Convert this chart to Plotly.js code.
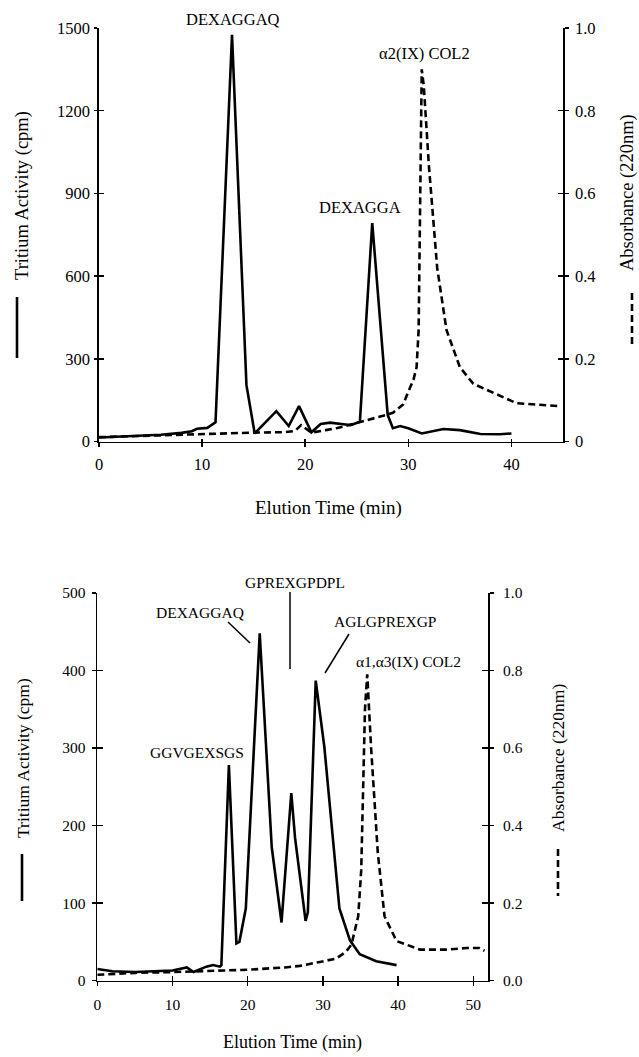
<!DOCTYPE html>
<html>
<head>
<meta charset="utf-8">
<script src="https://cdn.plot.ly/plotly-3.0.1.min.js"></script>
<style>html,body{margin:0;padding:0;background:#fff;}</style>
</head>
<body>
<div id="chart" style="width:639px;height:1057px;"></div>
<script>
// ---------- DATA ----------
// Top panel: alpha2(IX) COL2
const topTime = [0, 2, 4, 6, 8, 9, 9.5, 10.5, 11.3, 12.9, 14.3, 15.1, 17.2, 18.4, 19.4, 20.6, 21.5, 22.4, 23.7, 24.4, 25.3, 26.5, 28.0, 28.5, 29.2, 30.0, 31.3, 33.4, 35.0, 37.0, 38.9, 40.0];
const topCpm  = [15, 18, 21, 25, 32, 38, 47, 50, 70, 1475, 205, 30, 111, 57, 129, 34, 64, 69, 63, 60, 72, 793, 97, 49, 57, 49, 30, 46, 42, 28, 27, 30];
const topAbsTime = [0, 5, 10, 15, 18, 19.0, 19.6, 20.6, 22, 23.1, 24.5, 25.3, 26.5, 27.9, 28.5, 29.5, 29.9, 30.5, 30.8, 31.0, 31.3, 31.5, 32.0, 32.8, 33.7, 35.0, 36.3, 38.3, 40.5, 44.6];
const topAbs     = [0.011, 0.015, 0.019, 0.022, 0.023, 0.026, 0.040, 0.022, 0.028, 0.033, 0.042, 0.047, 0.055, 0.065, 0.070, 0.090, 0.115, 0.150, 0.180, 0.270, 0.900, 0.860, 0.665, 0.420, 0.270, 0.180, 0.140, 0.117, 0.093, 0.086];
const topXTicks = [0, 10, 20, 30, 40];
const topYTicks = [0, 300, 600, 900, 1200, 1500];
const topY2Ticks = [0, 0.2, 0.4, 0.6, 0.8, 1.0];
const topY2Text = ['0', '0.2', '0.4', '0.6', '0.8', '1.0'];

// Bottom panel: alpha1, alpha3(IX) COL2
const botTime = [0, 2, 5, 8, 10, 11.9, 12.8, 14.5, 15.4, 16.3, 16.5, 17.5, 18.5, 18.9, 19.75, 21.6, 23.2, 24.5, 25.8, 26.3, 27.7, 28.0, 29.05, 30.2, 32.2, 33.6, 34.9, 37.1, 39.8];
const botCpm  = [15, 12, 11, 12, 13, 17, 11, 18, 20, 18, 20, 278, 48, 50, 93, 448, 172, 75, 242, 184, 77, 88, 387, 301, 93, 52, 34, 25, 20];
const botAbsTime = [0, 5, 10, 15, 20, 25, 26.9, 29.6, 31.8, 33.1, 33.8, 34.7, 35.1, 35.6, 35.9, 36.4, 37.3, 38.2, 39.8, 42.9, 46.4, 49.1, 50.8, 51.5];
const botAbs     = [0.015, 0.020, 0.022, 0.025, 0.028, 0.034, 0.038, 0.048, 0.057, 0.075, 0.093, 0.166, 0.285, 0.700, 0.790, 0.605, 0.331, 0.166, 0.102, 0.080, 0.080, 0.084, 0.084, 0.077];
const botXTicks = [0, 10, 20, 30, 40, 50];
const botYTicks = [0, 100, 200, 300, 400, 500];
const botY2Ticks = [0, 0.2, 0.4, 0.6, 0.8, 1.0];

// Labels
const topPeakLabels = ['DEXAGGAQ', 'α2(IX) COL2', 'DEXAGGA'];
const botPeakLabels = ['GPREXGPDPL', 'DEXAGGAQ', 'AGLGPREXGP', 'α1,α3(IX) COL2', 'GGVGEXSGS'];
const yTitleLeft = 'Tritium Activity (cpm)';
const yTitleRight = 'Absorbance (220nm)';
const xTitle = 'Elution Time (min)';

// ---------- LAYOUT HELPERS ----------
const W = 639, H = 1057;
const px = x => x / W;
const py = y => 1 - y / H;
const FONT = '"Liberation Serif", "Times New Roman", Times, serif';
const BLACK = '#000';

const solid = {color: BLACK, width: 2.6};
const dashed = {color: BLACK, width: 2.6, dash: '7px,4px'};

const traces = [
  {x: topTime, y: topCpm, xaxis: 'x', yaxis: 'y', mode: 'lines', line: solid, hoverinfo: 'skip'},
  {x: topAbsTime, y: topAbs, xaxis: 'x', yaxis: 'y2', mode: 'lines', line: dashed, hoverinfo: 'skip'},
  {x: botTime, y: botCpm, xaxis: 'x2', yaxis: 'y3', mode: 'lines', line: solid, hoverinfo: 'skip'},
  {x: botAbsTime, y: botAbs, xaxis: 'x2', yaxis: 'y4', mode: 'lines', line: dashed, hoverinfo: 'skip'},
  // empty traces to realise overlay axes for crossing ticks
  {x: [], y: [], xaxis: 'x3', yaxis: 'y', mode: 'lines', hoverinfo: 'skip'},
  {x: [], y: [], xaxis: 'x', yaxis: 'y5', mode: 'lines', hoverinfo: 'skip'},
  {x: [], y: [], xaxis: 'x', yaxis: 'y6', mode: 'lines', hoverinfo: 'skip'},
  {x: [], y: [], xaxis: 'x4', yaxis: 'y3', mode: 'lines', hoverinfo: 'skip'},
  {x: [], y: [], xaxis: 'x2', yaxis: 'y7', mode: 'lines', hoverinfo: 'skip'},
  {x: [], y: [], xaxis: 'x2', yaxis: 'y8', mode: 'lines', hoverinfo: 'skip'}
];

function mainAxis(o) {
  return Object.assign({
    showline: true, linecolor: BLACK, linewidth: 1.6,
    ticks: 'outside', ticklen: 4, tickwidth: 1.5, tickcolor: BLACK,
    showgrid: false, zeroline: false, fixedrange: true,
    tickmode: 'array'
  }, o);
}
function crossAxis(o) {
  return Object.assign({
    showline: false, ticks: 'inside', ticklen: 4, tickwidth: 1.5, tickcolor: BLACK,
    showticklabels: false, showgrid: false, zeroline: false, fixedrange: true,
    tickmode: 'array'
  }, o);
}

const topDomX = [px(99), px(563)], topDomY = [py(441.7), py(28)];
const botDomX = [px(97.3), px(488.3)], botDomY = [py(980.6), py(593)];
const fTop = {family: FONT, size: 16.5, color: BLACK};
const fBot = {family: FONT, size: 15.5, color: BLACK};

const layout = {
  width: W, height: H,
  margin: {l: 0, r: 0, t: 0, b: 0},
  paper_bgcolor: '#fff', plot_bgcolor: 'rgba(0,0,0,0)',
  showlegend: false,
  font: {family: FONT, color: BLACK},
  xaxis: mainAxis({domain: topDomX, anchor: 'y', range: [0, 45], tickvals: topXTicks, tickfont: fTop, ticklabelstandoff: 3}),
  yaxis: mainAxis({domain: topDomY, anchor: 'x', range: [0, 1500], tickvals: topYTicks, tickfont: fTop, ticklen: 3, ticklabelstandoff: 1}),
  yaxis2: mainAxis({overlaying: 'y', side: 'right', anchor: 'x', range: [0, 1], tickvals: topY2Ticks, ticktext: topY2Text, tickfont: fTop, ticklabelstandoff: 3}),
  xaxis2: mainAxis({domain: botDomX, anchor: 'y3', range: [0, 52], tickvals: botXTicks, tickfont: fBot, ticklabelstandoff: 5}),
  yaxis3: mainAxis({domain: botDomY, anchor: 'x2', range: [0, 500], tickvals: botYTicks, tickfont: fBot, ticklabelstandoff: 3}),
  yaxis4: mainAxis({overlaying: 'y3', side: 'right', anchor: 'x2', range: [0, 1], tickvals: botY2Ticks, tickformat: '.1f', tickfont: fBot, ticklabelstandoff: 6}),
  // crossing tick halves
  xaxis3: crossAxis({overlaying: 'x', anchor: 'y', side: 'bottom', range: [0, 45], tickvals: topXTicks, ticklen: 3}),
  yaxis5: crossAxis({overlaying: 'y', anchor: 'x', side: 'left', range: [0, 1500], tickvals: topYTicks, ticklen: 5}),
  yaxis6: crossAxis({overlaying: 'y', anchor: 'x', side: 'right', range: [0, 1], tickvals: topY2Ticks, ticklen: 5}),
  xaxis4: crossAxis({overlaying: 'x2', anchor: 'y3', side: 'bottom', range: [0, 52], tickvals: botXTicks, ticklen: 5}),
  yaxis7: crossAxis({overlaying: 'y3', anchor: 'x2', side: 'left', range: [0, 500], tickvals: botYTicks, ticklen: 6}),
  yaxis8: crossAxis({overlaying: 'y3', anchor: 'x2', side: 'right', range: [0, 1], tickvals: botY2Ticks, ticklen: 6}),
  annotations: [],
  shapes: []
};

function label(text, x, y, size, angle) {
  layout.annotations.push({
    text: text, xref: 'paper', yref: 'paper', x: px(x), y: py(y),
    xanchor: 'center', yanchor: 'middle', showarrow: false,
    textangle: angle || 0, font: {family: FONT, size: size, color: BLACK}
  });
}
function seg(x0, y0, x1, y1, w, dash) {
  layout.shapes.push({
    type: 'line', xref: 'paper', yref: 'paper',
    x0: px(x0), y0: py(y0), x1: px(x1), y1: py(y1),
    line: {color: BLACK, width: w, dash: dash || 'solid'}
  });
}

// Top panel labels
label(topPeakLabels[0], 233, 19, 16.5);
label(topPeakLabels[1], 424, 53, 16.5);
label(topPeakLabels[2], 360, 208, 16.5);
label(yTitleLeft, 22, 196, 18.5, -90);
label(yTitleRight, 627, 193, 18.5, -90);
label(xTitle, 328, 508, 19);
seg(17, 297, 17, 358, 2.6);
seg(632, 293, 632, 347, 2.6, '7px,4px');

// Bottom panel labels
label(botPeakLabels[0], 295, 582, 15.5);
seg(290, 592, 290, 669, 1.5);
label(botPeakLabels[1], 200, 612, 15.5);
seg(228, 622, 250, 643, 1.5);
label(botPeakLabels[2], 385, 621, 15.5);
seg(349, 634, 325, 673, 1.5);
label(botPeakLabels[3], 408, 662, 15.5);
label(botPeakLabels[4], 197, 752, 15.5);
label(yTitleLeft, 23, 758, 17.5, -90);
label(yTitleRight, 558, 758, 17.5, -90);
label(xTitle, 292, 1042, 18);
seg(22, 854, 22, 901, 2.6);
seg(558, 849, 558, 896, 2.6, '7px,4px');

Plotly.newPlot('chart', traces, layout, {staticPlot: true, displayModeBar: false});
</script>
</body>
</html>
